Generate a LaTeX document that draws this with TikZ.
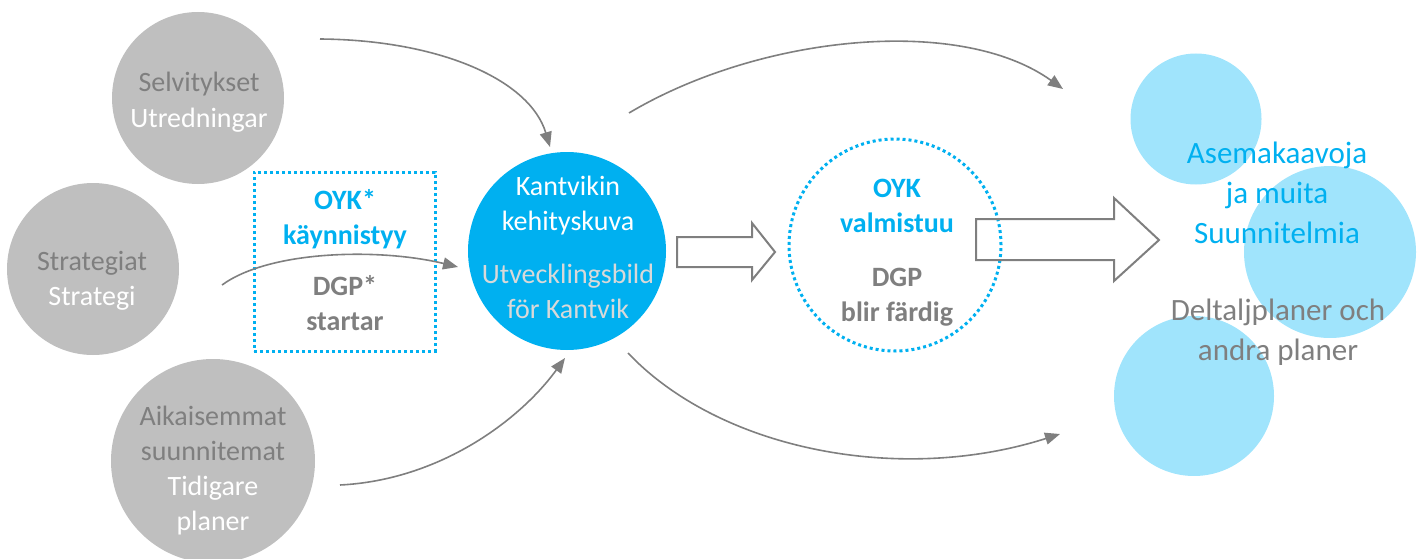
\documentclass[tikz,border=0pt]{standalone}
\usepackage{fontspec}
\setmainfont{Carlito}
\usetikzlibrary{arrows.meta}
\definecolor{cfill}{HTML}{BFBFBF}
\definecolor{ctext}{HTML}{7F7F7F}
\definecolor{cblue}{HTML}{00B0F0}
\definecolor{clight}{HTML}{A0E4FC}
\definecolor{cpale}{HTML}{D9D9D9}
\begin{document}
\begin{tikzpicture}[x=1pt,y=-1pt,
  graycirc/.style={circle,fill=cfill,inner sep=0pt,draw=none},
  lightcirc/.style={circle,fill=clight,inner sep=0pt,draw=none},
  txt/.style={font=\fontsize{28}{35}\selectfont,align=center,inner sep=0pt,anchor=base},
  btxt/.style={font=\fontsize{28}{35}\selectfont\bfseries,align=center,inner sep=0pt,anchor=base},
  rtxt/.style={font=\fontsize{31}{40}\selectfont,align=center,inner sep=0pt,anchor=base},
  bluedots/.style={draw=cblue,line width=3pt,dash pattern=on 3pt off 3pt},
  flow/.style={draw=ctext,line width=1.6pt,-{Triangle[length=15pt,width=12pt]}},
  blockarrow/.style={draw=ctext,line width=2pt,fill=none,line join=miter}]
\useasboundingbox (0,0) rectangle (1421,559);

% grey source circles
\node[graycirc,minimum size=172pt] (selv) at (198,98) {};
\node[graycirc,minimum size=172pt] (strat) at (93,269) {};
\node[graycirc,minimum size=204pt] (aik) at (213,461) {};

% central circle
\node[circle,fill=cblue,inner sep=0pt,minimum size=198pt] (kant) at (567,251) {};

% dotted circle
\node[circle,bluedots,inner sep=0pt,minimum size=212pt] (valm) at (895,245) {};

% dotted rectangle
\node[bluedots,rectangle,inner sep=0pt,minimum width=181pt,minimum height=179pt] (oykbox) at (344.5,261.5) {};

% light blue circles
\node[lightcirc,minimum size=131pt] (lc1) at (1196,119) {};
\node[lightcirc,minimum size=172pt] (lc2) at (1330,252) {};
\node[lightcirc,minimum size=160pt] (lc3) at (1194,396) {};

% texts (anchor = baseline of the last line)
\node[txt,text=ctext] (t1) at (199,92) {Selvitykset};
\node[txt,text=white] (t2) at (199,128) {Utredningar};
\node[txt,text=ctext] (t3) at (92,270) {Strategiat};
\node[txt,text=white] (t4) at (92,305) {Strategi};
\node[txt,text=ctext] (t5) at (213,460) {Aikaisemmat\\suunnitemat};
\node[txt,text=white] (t6) at (213,530) {Tidigare\\planer};
\node[btxt,text=cblue] (t7) at (345,244) {OYK*\\käynnistyy};
\node[btxt,text=ctext] (t8) at (345,330) {DGP*\\startar};
\node[txt,text=white] (t9) at (568,230) {Kantvikin\\kehityskuva};
\node[txt,text=cpale] (t10) at (568,318) {Utvecklingsbild\\för Kantvik};
\node[btxt,text=cblue] (t11) at (897,232) {OYK\\valmistuu};
\node[btxt,text=ctext] (t12) at (897,321) {DGP\\blir färdig};
\node[rtxt,text=cblue] (t13) at (1277,243) {Asemakaavoja\\ja muita\\Suunnitelmia};
\node[rtxt,text=ctext] (t14) at (1278,360) {Deltaljplaner och\\andra planer};

% connector end points
\coordinate (a1s) at (320,39);
\coordinate (a1e) at (550,147);
\coordinate (a2s) at (222,285);
\coordinate (a2e) at (458,267);
\coordinate (a3s) at (340,485);
\coordinate (a3e) at (565,358);
\coordinate (a4s) at (629,113);
\coordinate (a4e) at (1063,89);
\coordinate (a5s) at (628,353);
\coordinate (a5e) at (1060,434);

\draw[flow] (a1s) .. controls (440,40) and (530,80) .. (a1e);
\draw[flow] (a2s) .. controls (270,250) and (380,248) .. (a2e);
\draw[flow] (a3s) .. controls (440,480) and (520,420) .. (a3e);
\draw[flow] (a4s) .. controls (760,35) and (960,15) .. (a4e);
\draw[flow] (a5s) .. controls (720,450) and (900,485) .. (a5e);

% block arrows
\draw[blockarrow] (677,237) -- (752,237) -- (752,223) -- (775,252) -- (752,280) -- (752,267) -- (677,267) -- cycle;
\draw[blockarrow] (976,219) -- (1114,219) -- (1114,198) -- (1159,240) -- (1114,281) -- (1114,260) -- (976,260) -- cycle;
\end{tikzpicture}
\end{document}
